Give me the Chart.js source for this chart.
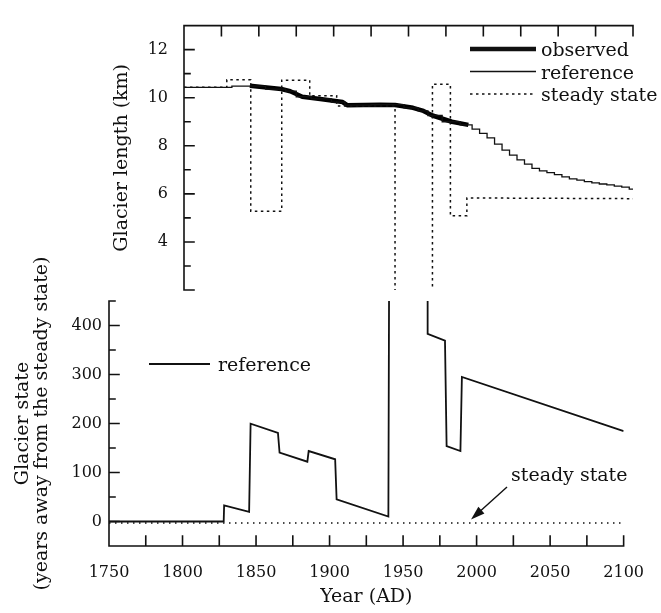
<!DOCTYPE html>
<html><head><meta charset="utf-8">
<script src="https://cdn.jsdelivr.net/npm/chart.js@4.4.1/dist/chart.umd.min.js"></script>
<style>
html,body{margin:0;padding:0;background:#fff;}
#wrap{position:relative;width:661px;height:613px;}
canvas{position:absolute;left:0;top:0;}
</style></head><body>
<div id="wrap"><canvas id="top" width="661" height="613"></canvas><canvas id="bot" width="661" height="613"></canvas></div>
<script>
// ---------- DATA ----------
// Top panel: glacier length (km)
const observedYears  = [1844, 1865, 1871, 1879, 1891, 1906, 1909, 1931, 1941, 1953, 1960, 1966, 1979, 1990];
const observedLength = [10.5, 10.36, 10.27, 10.04, 9.95, 9.82, 9.69, 9.71, 9.70, 9.58, 9.45, 9.26, 9.0, 8.87];

const referenceYears  = [1800, 1832, 1832, 1844, 1865, 1871, 1879, 1891, 1906, 1909, 1941, 1953, 1960, 1966, 1979, 1990,
                         1995, 2000, 2005, 2010, 2015, 2020, 2025, 2030, 2035, 2040, 2045, 2050, 2055, 2060, 2065, 2070,
                         2075, 2080, 2085, 2090, 2095, 2100];
const referenceLength = [10.43, 10.43, 10.48, 10.48, 10.36, 10.27, 10.04, 9.95, 9.82, 9.69, 9.71, 9.58, 9.45, 9.26, 9.0, 8.87,
                         8.69, 8.52, 8.33, 8.07, 7.82, 7.61, 7.41, 7.24, 7.06, 6.96, 6.88, 6.80, 6.71, 6.62, 6.57, 6.51,
                         6.46, 6.41, 6.37, 6.32, 6.28, 6.2];

const steadyYears  = [1800, 1828.6, 1828.6, 1844.6, 1844.6, 1865.3, 1865.3, 1884, 1884, 1902, 1902, 1941, 1941, 1966, 1966, 1978, 1978, 1989, 1989, 2100];
const steadyLength = [10.43, 10.43, 10.75, 10.75, 5.28, 5.28, 10.73, 10.73, 10.08, 10.08, 9.65, 9.65, 0, 0, 10.56, 10.56, 5.09, 5.09, 5.83, 5.8];

// Bottom panel: glacier state (years away from the steady state)
const stateYears     = [1750, 1828, 1828.3, 1845.3, 1846.3, 1864.9, 1866, 1884.9, 1885.8, 1903.8, 1904.8, 1940, 1941, 1966.7, 1966.7, 1978.5, 1979.6, 1989, 1990, 2100];
const referenceState = [0, 0, 33, 19.6, 199.6, 181, 140.5, 122, 143.8, 127, 45.4, 10, 1000, 1000, 383, 369, 154, 143.8, 295, 184.5];
const steadyStateYears = [1750, 2100];
const steadyState      = [-3, -3];

// Tick labels
const lengthTicks = [4, 6, 8, 10, 12];
const stateTicks  = [0, 100, 200, 300, 400];
const yearTicks   = [1750, 1800, 1850, 1900, 1950, 2000, 2050, 2100];

// ---------- RENDER ----------
const FONT = 'DejaVu Serif';
const INK = '#111';
Chart.defaults.font.family = FONT;
Chart.defaults.color = INK;

function pts(xs, ys) { return xs.map((x, i) => ({ x: x, y: ys[i] })); }

function drawLegendLine(ctx, x1, x2, y, w, dash) {
  ctx.save();
  ctx.strokeStyle = INK; ctx.lineWidth = w; ctx.setLineDash(dash || []);
  ctx.beginPath(); ctx.moveTo(x1, y); ctx.lineTo(x2, y); ctx.stroke();
  ctx.restore();
}
function drawText(ctx, t, x, y, size) {
  ctx.save();
  ctx.fillStyle = INK; ctx.font = size + 'px "' + FONT + '"';
  ctx.textAlign = 'left'; ctx.textBaseline = 'alphabetic';
  ctx.fillText(t, x, y);
  ctx.restore();
}

const topAxes = {
  id: 'topAxes',
  afterDatasetsDraw(chart) {
    const { ctx, chartArea: a, scales: { x, y } } = chart;
    ctx.save();
    ctx.strokeStyle = INK; ctx.lineWidth = 1.6; ctx.lineCap = 'square';
    ctx.beginPath();
    ctx.moveTo(a.left, a.bottom); ctx.lineTo(a.left, a.top); ctx.lineTo(a.right, a.top);
    for (let v = 2; v <= 12; v += 1) {
      const py = y.getPixelForValue(v);
      ctx.moveTo(a.left, py); ctx.lineTo(a.left + (v % 2 === 0 ? 10 : 6), py);
    }
    for (let yr = 1800; yr <= 2100; yr += 25) {
      const px = x.getPixelForValue(yr);
      ctx.moveTo(px, a.top); ctx.lineTo(px, a.top + 10);
    }
    ctx.stroke();
    ctx.restore();
    // legend
    drawLegendLine(ctx, 470, 536, 49, 4.5);
    drawText(ctx, 'observed', 541, 56, 19);
    drawLegendLine(ctx, 470, 536, 71.5, 1.3);
    drawText(ctx, 'reference', 541, 78.5, 19);
    drawLegendLine(ctx, 470, 536, 94, 1.5, [2.5, 3.5]);
    drawText(ctx, 'steady state', 541, 101, 19);
  }
};

const botAxes = {
  id: 'botAxes',
  afterDatasetsDraw(chart) {
    const { ctx, chartArea: a, scales: { x, y } } = chart;
    ctx.save();
    ctx.strokeStyle = INK; ctx.lineWidth = 1.6; ctx.lineCap = 'square';
    ctx.beginPath();
    ctx.moveTo(a.left, a.top); ctx.lineTo(a.left, a.bottom); ctx.lineTo(a.right, a.bottom);
    for (let v = -50; v <= 450; v += 50) {
      const py = y.getPixelForValue(v);
      ctx.moveTo(a.left, py); ctx.lineTo(a.left + (v % 100 === 0 ? 10 : 6), py);
    }
    for (let yr = 1750; yr <= 2100; yr += 25) {
      const px = x.getPixelForValue(yr);
      ctx.moveTo(px, a.bottom); ctx.lineTo(px, a.bottom - 10);
    }
    ctx.stroke();
    ctx.restore();
    // in-plot labels
    drawLegendLine(ctx, 149, 210, 364, 1.8);
    drawText(ctx, 'reference', 218, 371, 19);
    drawText(ctx, 'steady state', 511, 481, 19);
    // arrow
    const x1 = 507, y1 = 487, x2 = 471, y2 = 519.5;
    const ang = Math.atan2(y2 - y1, x2 - x1);
    ctx.save();
    ctx.strokeStyle = INK; ctx.fillStyle = INK; ctx.lineWidth = 1.4;
    ctx.beginPath(); ctx.moveTo(x1, y1); ctx.lineTo(x2 - 10 * Math.cos(ang), y2 - 10 * Math.sin(ang)); ctx.stroke();
    ctx.beginPath();
    ctx.moveTo(x2, y2);
    ctx.lineTo(x2 - 14 * Math.cos(ang) + 4.5 * Math.sin(ang), y2 - 14 * Math.sin(ang) - 4.5 * Math.cos(ang));
    ctx.lineTo(x2 - 14 * Math.cos(ang) - 4.5 * Math.sin(ang), y2 - 14 * Math.sin(ang) + 4.5 * Math.cos(ang));
    ctx.closePath(); ctx.fill();
    ctx.restore();
  }
};

new Chart(document.getElementById('top'), {
  type: 'line',
  data: {
    datasets: [
      { label: 'steady state', data: pts(steadyYears, steadyLength), borderColor: INK, borderWidth: 1.5, borderDash: [2.5, 3.5], pointRadius: 0, clip: 0 },
      { label: 'reference', data: pts(referenceYears, referenceLength), borderColor: INK, borderWidth: 1.3, pointRadius: 0, stepped: 'middle', clip: 0 },
      { label: 'observed', data: pts(observedYears, observedLength), borderColor: '#000', borderWidth: 4.5, pointRadius: 0, borderJoinStyle: 'round', borderCapStyle: 'butt', clip: 0 }
    ]
  },
  options: {
    responsive: false, animation: false, devicePixelRatio: 1,
    layout: { padding: { left: 0, top: 10, right: 28, bottom: 323 } },
    plugins: { legend: { display: false }, tooltip: { enabled: false } },
    scales: {
      x: { type: 'linear', min: 1800, max: 2100, display: false },
      y: {
        type: 'linear', min: 2, max: 13,
        afterFit(s) { s.width = 184; },
        afterBuildTicks(s) { s.ticks = lengthTicks.map(v => ({ value: v })); },
        grid: { display: false, drawTicks: false }, border: { display: false },
        ticks: { font: { size: 16 }, color: INK, padding: 16, callback: v => String(v) },
        title: { display: true, text: 'Glacier length (km)', font: { size: 19 }, color: INK, padding: { top: 111, bottom: 0 } }
      }
    }
  },
  plugins: [topAxes]
});

new Chart(document.getElementById('bot'), {
  type: 'line',
  data: {
    datasets: [
      { label: 'steady state', data: pts(steadyStateYears, steadyState), borderColor: INK, borderWidth: 1.5, borderDash: [1.5, 4.5], pointRadius: 0, clip: 0 },
      { label: 'reference', data: pts(stateYears, referenceState), borderColor: INK, borderWidth: 1.8, pointRadius: 0, clip: 0 }
    ]
  },
  options: {
    responsive: false, animation: false, devicePixelRatio: 1,
    layout: { padding: { left: 0, top: 301, right: 28, bottom: 0 } },
    plugins: { legend: { display: false }, tooltip: { enabled: false } },
    scales: {
      x: {
        type: 'linear', min: 1750, max: 2100, position: 'bottom',
        afterFit(s) { s.height = 67; },
        afterBuildTicks(s) { s.ticks = yearTicks.map(v => ({ value: v })); },
        grid: { display: false, drawTicks: false }, border: { display: false },
        ticks: { font: { size: 16 }, color: INK, padding: 17, maxRotation: 0, autoSkip: false, callback: v => String(v) },
        title: { display: true, text: 'Year (AD)', font: { size: 19 }, color: INK, padding: { top: 0, bottom: 5 } }
      },
      y: {
        type: 'linear', min: -50, max: 450,
        afterFit(s) { s.width = 109; },
        afterBuildTicks(s) { s.ticks = stateTicks.map(v => ({ value: v })); },
        grid: { display: false, drawTicks: false }, border: { display: false },
        ticks: { font: { size: 16 }, color: INK, padding: 7, callback: v => String(v) },
        title: { display: true, text: ['Glacier state', '(years away from the steady state)'], font: { size: 19, lineHeight: 0.97 }, color: INK, padding: { top: 14, bottom: 0 } }
      }
    }
  },
  plugins: [botAxes]
});
</script>
</body></html>
